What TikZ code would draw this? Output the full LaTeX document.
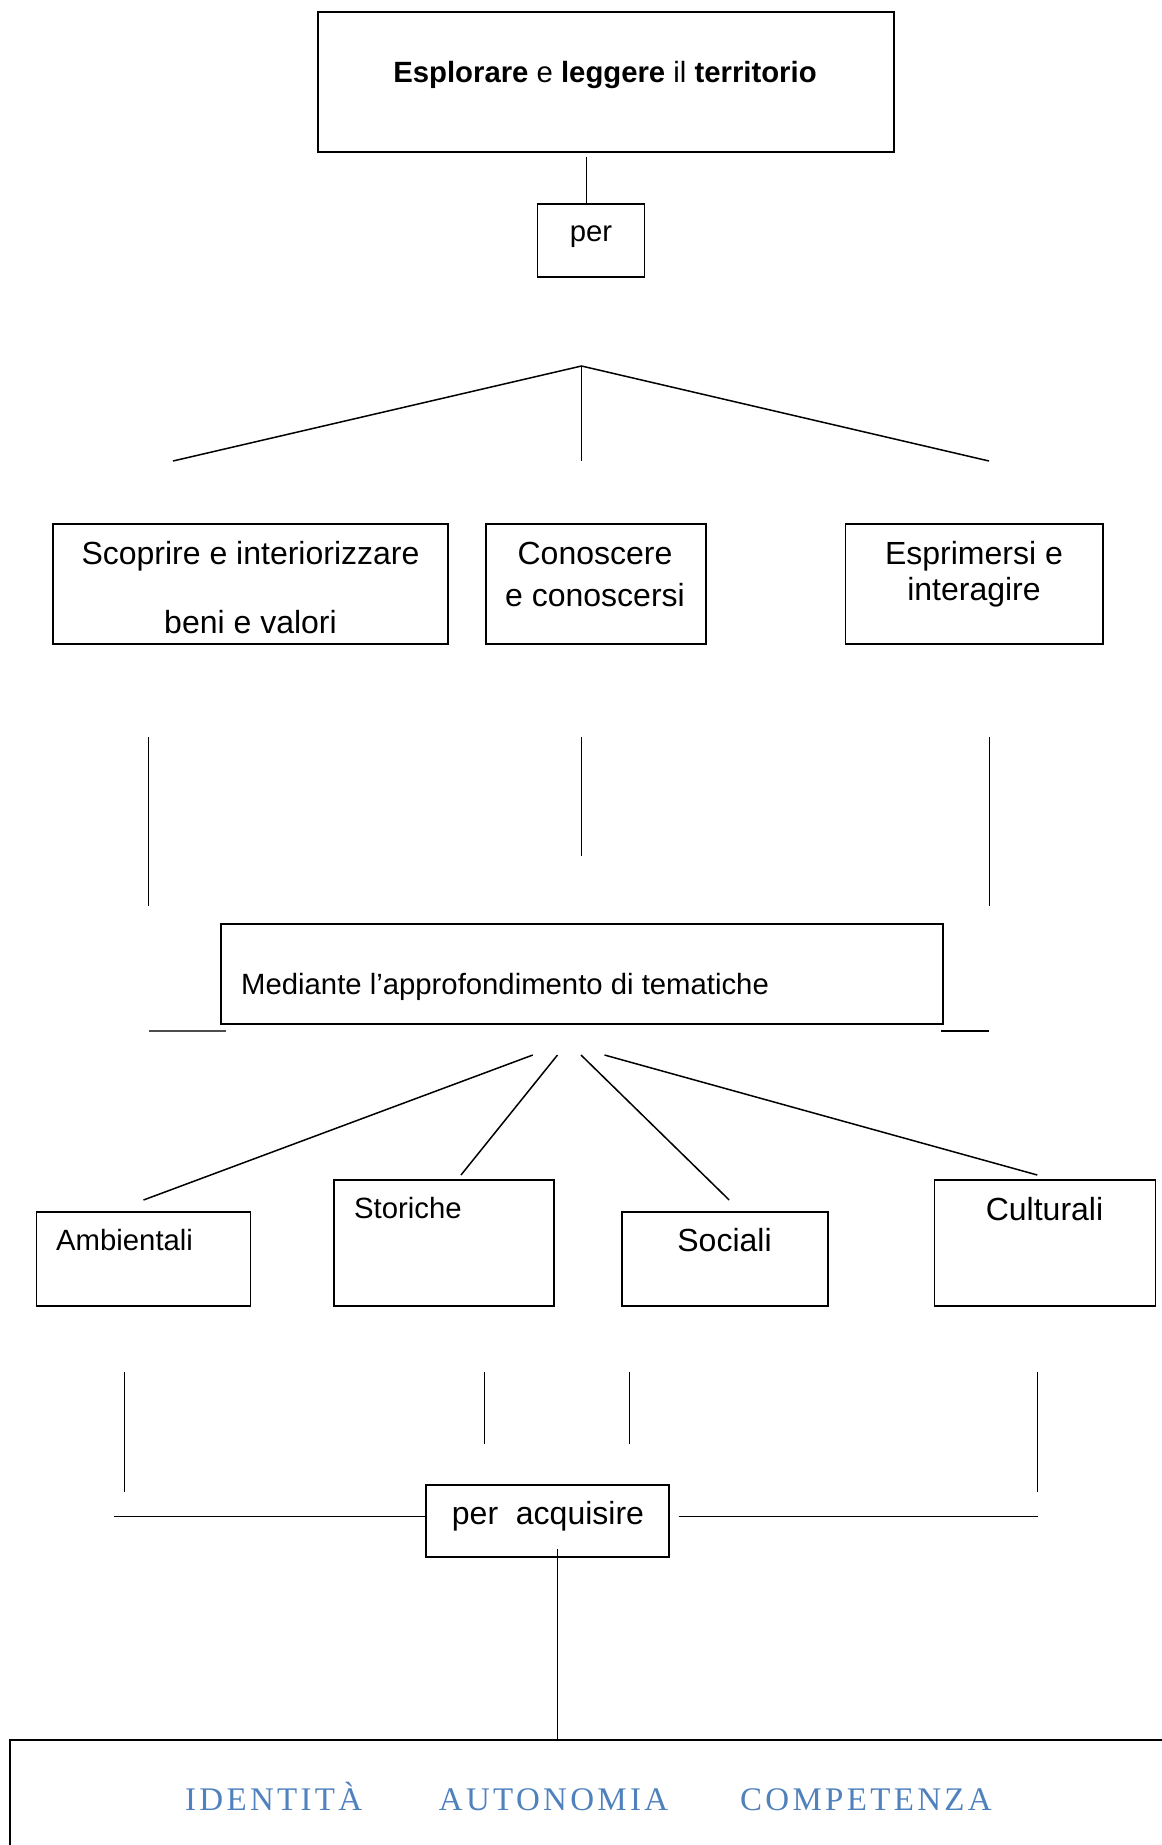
\documentclass[tikz,border=0pt]{standalone}
\usepackage{fontspec}
\setmainfont{Liberation Sans}
\newfontfamily\bluefont[LetterSpace=10]{Liberation Serif}
\usetikzlibrary{positioning}
\definecolor{accentblue}{RGB}{79,129,189}

\begin{document}
\begin{tikzpicture}[
        x=1pt, y=-1pt,
        box/.style={
                rectangle,
                draw=black,
                line width=1.6pt,
                inner sep=0pt
            },
        small/.style = {font=\fontsize{29.3}{35}\selectfont, inner sep=0pt, anchor=base},
        big/.style = {font=\fontsize{32}{38}\selectfont, inner sep=0pt, anchor=base},
        link/.style = {line width=1.5pt}
    ]
    \useasboundingbox (0,0) rectangle (1162,1845);
    \clip (0,0) rectangle (1162,1845);

    % title and "per"
    \node[box, minimum width=576pt, minimum height=140pt] (esplorare) at (605.7,82) {};
    \node[small] (esplorareText) at (605,82.6) {\textbf{Esplorare} e \textbf{leggere} il \textbf{territorio}};
    \node[box, minimum width=107pt, minimum height=73pt] (per) at (591,240.5) {};
    \node[small] (perText) at (591,241) {per};

    \coordinate (perTop) at (586.5,157);
    \draw[link] (perTop) -- (perTop |- per.north);

    % first fan
    \coordinate (apex) at (581.5,366);
    \coordinate (fanL) at (173,461);
    \coordinate (fanC) at (581.5,461);
    \coordinate (fanR) at (989,461);
    \draw[link] (fanL) -- (apex) -- (fanR);
    \draw[link] (apex) -- (fanC);

    % the three aims
    \node[box, minimum width=395pt, minimum height=120pt] (scoprire) at (250.5,584) {};
    \node[big] (scoprireA) at (250.5,564) {Scoprire e interiorizzare};
    \node[big] (scoprireB) at (250.5,633) {beni e valori};
    \node[box, minimum width=220pt, minimum height=120pt] (conoscere) at (595.7,584) {};
    \node[big] (conoscereA) at (595,564) {Conoscere};
    \node[big] (conoscereB) at (595,606) {e conoscersi};
    \node[box, minimum width=257.6pt, minimum height=120pt] (esprimersi) at (974.4,584) {};
    \node[big] (esprimersiA) at (974,564) {Esprimersi e};
    \node[big] (esprimersiB) at (974,600) {interagire};

    \coordinate (downLa) at (148.5,737);  \coordinate (downLb) at (148.5,906);
    \coordinate (downCa) at (581.5,737);  \coordinate (downCb) at (581.5,856);
    \coordinate (downRa) at (989.5,737);  \coordinate (downRb) at (989.5,906);
    \draw[link] (downLa) -- (downLb);
    \draw[link] (downCa) -- (downCb);
    \draw[link] (downRa) -- (downRb);

    % mediante
    \node[box, minimum width=722pt, minimum height=100pt] (mediante) at (582,974) {};
    \node[small, anchor=base west] (medianteText) at (241,994) {Mediante l’approfondimento di tematiche};
    \coordinate (stubLa) at (149,1031);  \coordinate (stubLb) at (226,1031);
    \coordinate (stubRa) at (941,1031);  \coordinate (stubRb) at (989,1031);
    \draw[link, black!70, line width=1.8pt] (stubLa) -- (stubLb);
    \draw[link, line width=1.8pt] (stubRa) -- (stubRb);

    % second fan
    \coordinate (rayA) at (532.8,1055);  \coordinate (rayAend) at (143.5,1200);
    \coordinate (rayB) at (557.5,1055);  \coordinate (rayBend) at (461,1175);
    \coordinate (rayC) at (581,1055);    \coordinate (rayCend) at (729.2,1200);
    \coordinate (rayD) at (604.5,1055);  \coordinate (rayDend) at (1037.3,1175);
    \draw[link] (rayA) -- (rayAend);
    \draw[link] (rayB) -- (rayBend);
    \draw[link] (rayC) -- (rayCend);
    \draw[link] (rayD) -- (rayDend);

    % tematiche
    \node[box, minimum width=214pt, minimum height=94pt] (ambientali) at (143.5,1259) {};
    \node[small, anchor=base west] (ambientaliText) at (56,1250) {Ambientali};
    \node[box, minimum width=220pt, minimum height=126pt] (storiche) at (444,1243) {};
    \node[small, anchor=base west] (storicheText) at (354,1218) {Storiche};
    \node[box, minimum width=206pt, minimum height=94pt] (sociali) at (725,1259) {};
    \node[big] (socialiText) at (724.5,1251.5) {Sociali};
    \node[box, minimum width=221pt, minimum height=126pt] (culturali) at (1045,1243) {};
    \node[big] (culturaliText) at (1044.5,1220) {Culturali};

    \coordinate (dropAa) at (124.5,1372);   \coordinate (dropAb) at (124.5,1492);
    \coordinate (dropBa) at (484.5,1372);   \coordinate (dropBb) at (484.5,1444);
    \coordinate (dropCa) at (629.5,1372);   \coordinate (dropCb) at (629.5,1444);
    \coordinate (dropDa) at (1037.5,1372);  \coordinate (dropDb) at (1037.5,1492);
    \draw[link] (dropAa) -- (dropAb);
    \draw[link] (dropBa) -- (dropBb);
    \draw[link] (dropCa) -- (dropCb);
    \draw[link] (dropDa) -- (dropDb);

    % per acquisire
    \node[box, minimum width=243pt, minimum height=72pt] (acquisire) at (547.5,1521) {};
    \node[big] (acquisireText) at (548,1524) {per\ \ acquisire};
    \coordinate (armL) at (114,1516.5);
    \coordinate (armRa) at (678.6,1516.5);  \coordinate (armRb) at (1037.5,1516.5);
    \draw[link, line width=1.8pt] (armL) -- (armL -| acquisire.west);
    \draw[link, line width=1.8pt] (armRa) -- (armRb);

    % goals
    \node[box, line width=2pt, minimum width=1190pt, minimum height=160pt] (traguardi) at (605,1820) {};
    \coordinate (acqDown) at (557.5,1549);
    \draw[link] (acqDown) -- (acqDown |- traguardi.north);
    \node[anchor=base west, inner sep=0pt, text=accentblue, font=\bluefont\fontsize{33}{40}\selectfont]
        (traguardiText) at (185,1810) {IDENTITÀ\hspace{76.7pt}AUTONOMIA\hspace{72pt}COMPETENZA};
\end{tikzpicture}
\end{document}
